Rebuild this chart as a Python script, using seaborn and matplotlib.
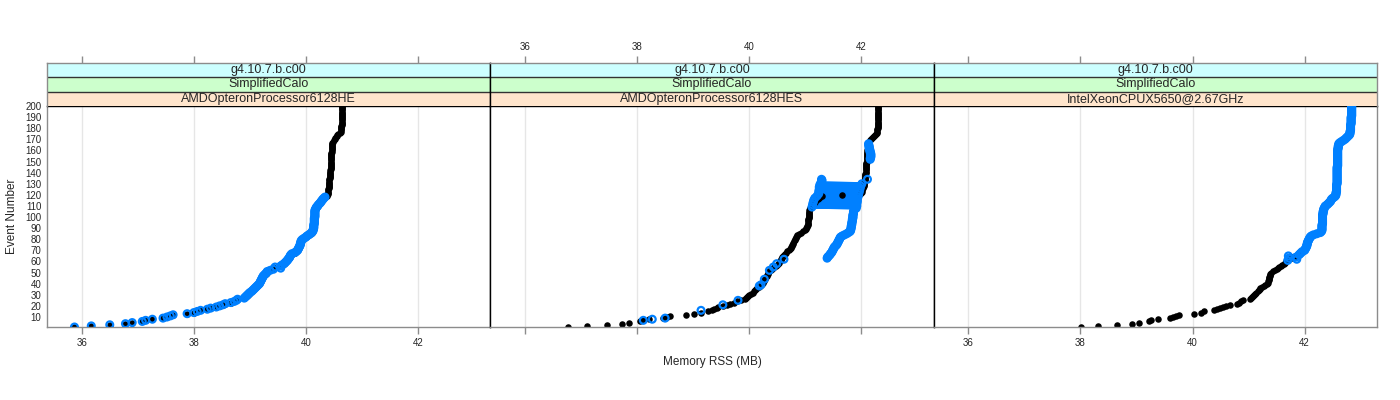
import numpy as np
import pandas as pd
import seaborn as sns
import matplotlib.pyplot as plt

# -----------------------------
# Data (Memory RSS in MB per event number)
# -----------------------------
version = "g4.10.7.b.c00"
benchmark = "SimplifiedCalo"
machines = ["AMDOpteronProcessor6128HE", "AMDOpteronProcessor6128HES",
            "IntelXeonCPUX5650@2.67GHz"]

# panel 1: black events 1-200, blue events 1-118
p1_black_rss = [
    35.87, 36.17, 36.50, 36.78, 36.90, 37.08, 37.14, 37.26, 37.45, 37.52,
    37.58, 37.63, 37.88, 38.00, 38.06, 38.12, 38.24, 38.30, 38.40, 38.46,
    38.52, 38.56, 38.66, 38.72, 38.76, 38.78, 38.90, 38.92, 38.94, 38.96,
    38.98, 39.00, 39.03, 39.05, 39.07, 39.09, 39.11, 39.13, 39.15, 39.17,
    39.18, 39.19, 39.20, 39.21, 39.22, 39.23, 39.24, 39.26, 39.28, 39.30,
    39.31, 39.36, 39.40, 39.43, 39.42, 39.55, 39.58, 39.61, 39.63, 39.65,
    39.67, 39.68, 39.70, 39.71, 39.72, 39.73, 39.75, 39.80, 39.83, 39.85,
    39.86, 39.87, 39.88, 39.89, 39.90, 39.90, 39.91, 39.91, 39.92, 39.94,
    39.97, 40.00, 40.02, 40.05, 40.08, 40.10, 40.12, 40.13, 40.13, 40.14,
    40.14, 40.14, 40.14, 40.15, 40.15, 40.15, 40.15, 40.15, 40.15, 40.16,
    40.16, 40.16, 40.16, 40.16, 40.16, 40.16, 40.17, 40.18, 40.19, 40.21,
    40.22, 40.24, 40.26, 40.27, 40.29, 40.30, 40.32, 40.34, 40.37, 40.38,
    40.39, 40.39, 40.40, 40.40, 40.40, 40.41, 40.41, 40.41, 40.41, 40.42,
    40.42, 40.42, 40.42, 40.42, 40.43, 40.43, 40.43, 40.43, 40.43, 40.43,
    40.43, 40.43, 40.44, 40.44, 40.44, 40.44, 40.44, 40.44, 40.44, 40.44,
    40.45, 40.45, 40.45, 40.45, 40.45, 40.45, 40.45, 40.45, 40.46, 40.46,
    40.46, 40.46, 40.46, 40.46, 40.46, 40.46, 40.47, 40.48, 40.50, 40.51,
    40.52, 40.53, 40.55, 40.56, 40.58, 40.60, 40.62, 40.63, 40.63, 40.63,
    40.63, 40.63, 40.64, 40.64, 40.64, 40.64, 40.64, 40.64, 40.64, 40.64,
    40.64, 40.65, 40.65, 40.65, 40.65, 40.65, 40.65, 40.65, 40.65, 40.65,
]
p1_blue_rss = [
    35.87, 36.17, 36.50, 36.78, 36.90, 37.08, 37.14, 37.26, 37.45, 37.52,
    37.58, 37.63, 37.88, 38.00, 38.06, 38.12, 38.24, 38.30, 38.40, 38.46,
    38.52, 38.56, 38.66, 38.72, 38.76, 38.78, 38.90, 38.92, 38.94, 38.96,
    38.98, 39.00, 39.03, 39.05, 39.07, 39.09, 39.11, 39.13, 39.15, 39.17,
    39.18, 39.19, 39.20, 39.21, 39.22, 39.23, 39.24, 39.26, 39.28, 39.30,
    39.31, 39.36, 39.42, 39.55, 39.45, 39.55, 39.58, 39.61, 39.63, 39.65,
    39.67, 39.68, 39.70, 39.71, 39.72, 39.73, 39.75, 39.80, 39.83, 39.85,
    39.86, 39.87, 39.88, 39.89, 39.90, 39.90, 39.91, 39.91, 39.92, 39.94,
    39.97, 40.00, 40.02, 40.05, 40.08, 40.10, 40.12, 40.13, 40.13, 40.14,
    40.14, 40.14, 40.14, 40.15, 40.15, 40.15, 40.15, 40.15, 40.15, 40.16,
    40.16, 40.16, 40.16, 40.16, 40.16, 40.16, 40.17, 40.18, 40.19, 40.21,
    40.22, 40.24, 40.26, 40.27, 40.29, 40.30, 40.32, 40.34,
]

# panel 2: black events 1-200, blue scattered points + two runs
p2_black_rss = [
    36.76, 37.10, 37.46, 37.73, 37.86, 38.05, 38.10, 38.22, 38.46, 38.54,
    38.59, 38.88, 39.01, 39.14, 39.27, 39.33, 39.38, 39.42, 39.45, 39.53,
    39.60, 39.66, 39.72, 39.79, 39.86, 39.93, 39.95, 39.96, 39.98, 40.00,
    40.03, 40.06, 40.08, 40.10, 40.12, 40.14, 40.17, 40.20, 40.21, 40.23,
    40.25, 40.26, 40.27, 40.28, 40.29, 40.30, 40.31, 40.32, 40.33, 40.34,
    40.36, 40.38, 40.40, 40.43, 40.45, 40.47, 40.49, 40.51, 40.53, 40.55,
    40.56, 40.57, 40.58, 40.59, 40.60, 40.62, 40.64, 40.66, 40.68, 40.71,
    40.73, 40.74, 40.75, 40.76, 40.77, 40.78, 40.79, 40.80, 40.81, 40.82,
    40.83, 40.84, 40.85, 40.86, 40.88, 40.92, 40.96, 40.99, 41.01, 41.02,
    41.03, 41.03, 41.04, 41.04, 41.04, 41.05, 41.05, 41.05, 41.06, 41.06,
    41.06, 41.06, 41.07, 41.07, 41.07, 41.07, 41.08, 41.09, 41.10, 41.11,
    41.12, 41.13, 41.15, 41.17, 41.20, 41.22, 41.25, 41.27, 41.29, 41.66,
    41.98, 42.00, 42.01, 42.02, 42.02, 42.03, 42.03, 42.04, 42.04, 42.05,
    42.05, 42.05, 42.06, 42.06, 42.06, 42.07, 42.07, 42.07, 42.07, 42.08,
    42.08, 42.08, 42.08, 42.08, 42.09, 42.09, 42.09, 42.09, 42.09, 42.10,
    42.10, 42.10, 42.10, 42.10, 42.10, 42.11, 42.11, 42.11, 42.11, 42.11,
    42.12, 42.12, 42.12, 42.12, 42.13, 42.13, 42.13, 42.14, 42.15, 42.17,
    42.19, 42.21, 42.23, 42.25, 42.27, 42.28, 42.28, 42.28, 42.28, 42.29,
    42.29, 42.29, 42.29, 42.29, 42.29, 42.29, 42.29, 42.29, 42.29, 42.29,
    42.29, 42.29, 42.29, 42.29, 42.30, 42.30, 42.30, 42.30, 42.30, 42.30,
]
p2_blue_dot_event = [7, 8, 9, 16, 21, 25, 38, 39, 44, 52, 55, 58, 62, 134]
p2_blue_dot_rss = [38.11, 38.27, 38.50, 39.14, 39.53, 39.80, 40.18, 40.21,
                   40.27, 40.36, 40.43, 40.49, 40.62, 42.11]
# events 63-134
p2_blue_curve_rss = [
    41.39, 41.40, 41.42, 41.44, 41.45, 41.47, 41.48, 41.49, 41.50, 41.51,
    41.52, 41.54, 41.56, 41.57, 41.58, 41.59, 41.60, 41.61, 41.62, 41.63,
    41.66, 41.70, 41.74, 41.77, 41.80, 41.81, 41.81, 41.82, 41.82, 41.82,
    41.83, 41.83, 41.83, 41.84, 41.84, 41.84, 41.85, 41.85, 41.85, 41.85,
    41.86, 41.86, 41.86, 41.87, 41.88, 41.91, 41.12, 41.92, 41.13, 41.92,
    41.14, 41.93, 41.15, 41.93, 41.17, 41.94, 41.21, 41.95, 41.24, 41.96,
    41.24, 41.97, 41.25, 41.98, 41.25, 41.99, 41.26, 42.01, 41.28, 41.29,
    41.30, 41.29,
]
# events 152-166
p2_blue_upper_rss = [42.16, 42.16, 42.17, 42.17, 42.17, 42.17, 42.16, 42.16,
                     42.15, 42.15, 42.14, 42.14, 42.14, 42.13, 42.13]

# panel 3: black events 1-68, blue events 61-200
p3_black_rss = [
    38.01, 38.32, 38.65, 38.92, 39.05, 39.22, 39.26, 39.39, 39.60, 39.65,
    39.70, 39.75, 40.02, 40.16, 40.21, 40.38, 40.43, 40.49, 40.55, 40.60,
    40.66, 40.79, 40.83, 40.87, 40.90, 41.02, 41.04, 41.06, 41.08, 41.10,
    41.12, 41.14, 41.16, 41.18, 41.20, 41.21, 41.24, 41.27, 41.30, 41.33,
    41.34, 41.35, 41.36, 41.36, 41.37, 41.37, 41.38, 41.38, 41.39, 41.40,
    41.43, 41.47, 41.50, 41.52, 41.55, 41.58, 41.60, 41.63, 41.65, 41.67,
    41.69, 41.72, 41.76, 41.80, 41.84, 41.87, 41.89, 41.91,
]
p3_blue_rss = [
    41.70, 41.86, 41.72, 41.85, 41.71, 41.90, 41.92, 41.94, 41.96, 42.00,
    42.01, 42.02, 42.03, 42.04, 42.04, 42.05, 42.05, 42.06, 42.07, 42.08,
    42.09, 42.10, 42.12, 42.16, 42.22, 42.28, 42.30, 42.31, 42.31, 42.31,
    42.31, 42.31, 42.31, 42.32, 42.32, 42.32, 42.32, 42.32, 42.32, 42.32,
    42.32, 42.32, 42.33, 42.33, 42.33, 42.34, 42.34, 42.35, 42.36, 42.37,
    42.40, 42.42, 42.44, 42.46, 42.47, 42.48, 42.50, 42.53, 42.55, 42.56,
    42.56, 42.56, 42.57, 42.57, 42.57, 42.57, 42.57, 42.57, 42.57, 42.58,
    42.58, 42.58, 42.58, 42.58, 42.58, 42.58, 42.58, 42.58, 42.58, 42.58,
    42.58, 42.58, 42.58, 42.58, 42.58, 42.59, 42.59, 42.59, 42.59, 42.59,
    42.59, 42.59, 42.59, 42.59, 42.59, 42.59, 42.59, 42.59, 42.59, 42.59,
    42.59, 42.60, 42.60, 42.60, 42.61, 42.61, 42.63, 42.66, 42.69, 42.72,
    42.74, 42.76, 42.78, 42.80, 42.81, 42.81, 42.81, 42.82, 42.82, 42.82,
    42.82, 42.82, 42.82, 42.83, 42.83, 42.83, 42.83, 42.83, 42.83, 42.83,
    42.84, 42.84, 42.84, 42.84, 42.84, 42.84, 42.84, 42.84, 42.84, 42.84,
]


def run_frame(panel, first_event, rss, run):
    return pd.DataFrame({
        "panel": panel,
        "event": first_event + np.arange(len(rss)),
        "rss": rss,
        "run": run,
    })


black = pd.concat([
    run_frame(0, 1, p1_black_rss, "k"),
    run_frame(1, 1, p2_black_rss, "k"),
    run_frame(2, 1, p3_black_rss, "k"),
])
# runs drawn with connecting lines
blue_lines = pd.concat([
    run_frame(1, 63, p2_blue_curve_rss, "b"),
    run_frame(1, 152, p2_blue_upper_rss, "c"),
    run_frame(2, 61, p3_blue_rss, "d"),
])
blue_dots = pd.concat([
    run_frame(0, 1, p1_blue_rss, "a"),
    blue_lines,
    pd.DataFrame({"panel": 1, "event": p2_blue_dot_event,
                  "rss": p2_blue_dot_rss, "run": "e"}),
])

# -----------------------------
# Layout (lattice-like, 3 panels in a row)
# -----------------------------
sns.set_theme(style="white")
plt.rcParams["font.family"] = ["Liberation Sans", "DejaVu Sans"]

BLUE = "#0080FF"
GRID = "#E6E6E6"
FRAME = "#8C8C8C"
STRIP_COLORS = ["#FFE5CC", "#CCFFCC", "#CCFFFF"]
XLIM = (35.38, 43.29)
YLIM = (1, 200)
XTICKS = [36, 38, 40, 42]

W, H = 1400, 400
fig = plt.figure(figsize=(14, 4), dpi=100)
left0, panel_w = 47, 443.3
panel_top, panel_bot, strip_top = 106, 327, 63

for i, machine in enumerate(machines):
    x0 = (left0 + i * panel_w) / W
    ax = fig.add_axes([x0, 1 - panel_bot / H, panel_w / W,
                       (panel_bot - panel_top) / H])
    sax = fig.add_axes([x0, 1 - panel_top / H, panel_w / W,
                        (panel_top - strip_top) / H])

    for v in XTICKS:
        ax.axvline(v, color=GRID, lw=1, zorder=0)

    line_data = blue_lines[blue_lines.panel == i]
    if len(line_data):
        sns.lineplot(data=line_data, x="rss", y="event", units="run",
                     estimator=None, sort=False, color=BLUE, lw=2.2,
                     ax=ax, zorder=1, legend=False)
    sns.scatterplot(data=black[black.panel == i], x="rss", y="event",
                    color="black", s=22, linewidth=0, ax=ax, zorder=2,
                    legend=False)
    sns.scatterplot(data=blue_dots[blue_dots.panel == i], x="rss",
                    y="event", s=24, ax=ax, zorder=3, legend=False)
    pts = ax.collections[-1]
    pts.set_facecolor("none")
    pts.set_edgecolor(BLUE)
    pts.set_linewidth(1.6)

    ax.set_xlim(XLIM)
    ax.set_ylim(YLIM)
    ax.set_xlabel("")
    ax.set_ylabel("")
    ax.set_xticks(XTICKS)
    ax.set_xticklabels([str(t) for t in XTICKS] if i != 1 else [])
    ax.tick_params(axis="x", direction="out", length=5, width=1,
                   color=FRAME, labelsize=7, pad=3, bottom=True)
    if i == 0:
        ax.set_yticks(range(10, 201, 10))
        ax.tick_params(axis="y", length=0, labelsize=7, pad=4)
    else:
        ax.set_yticks([])
    for side, sp in ax.spines.items():
        sp.set_linewidth(1)
        sp.set_color(FRAME)
    ax.spines["top"].set_color("black")
    if i > 0:
        ax.spines["left"].set_color("black")
    if i < 2:
        ax.spines["right"].set_color("black")

    # strips
    sax.set_xlim(XLIM)
    sax.set_ylim(0, 3)
    labels = [machine, benchmark, version]
    for k in range(3):
        sax.axhspan(k, k + 1, color=STRIP_COLORS[k], lw=0)
        sax.text(0.5 * (XLIM[0] + XLIM[1]), k + 0.5, labels[k],
                 ha="center", va="center", fontsize=9)
    for k in (1, 2):
        sax.axhline(k, color="#333333", lw=1)
    sax.set_yticks([])
    sax.xaxis.tick_top()
    sax.set_xticks(XTICKS)
    sax.set_xticklabels([str(t) for t in XTICKS] if i == 1 else [])
    sax.tick_params(axis="x", direction="out", length=5, width=1,
                    color=FRAME, labelsize=7, pad=3, top=True)
    for side, sp in sax.spines.items():
        sp.set_linewidth(1)
        sp.set_color(FRAME)
    sax.spines["bottom"].set_visible(False)
    if i > 0:
        sax.spines["left"].set_color("black")
    if i < 2:
        sax.spines["right"].set_color("black")

fig.text(712 / W, 1 - 362 / H, "Memory RSS (MB)", ha="center", va="center",
         fontsize=8.5)
fig.text(12 / W, 1 - 216 / H, "Event Number", ha="center", va="center",
         rotation=90, fontsize=8.5)

fig.savefig("out.png", dpi=100)
